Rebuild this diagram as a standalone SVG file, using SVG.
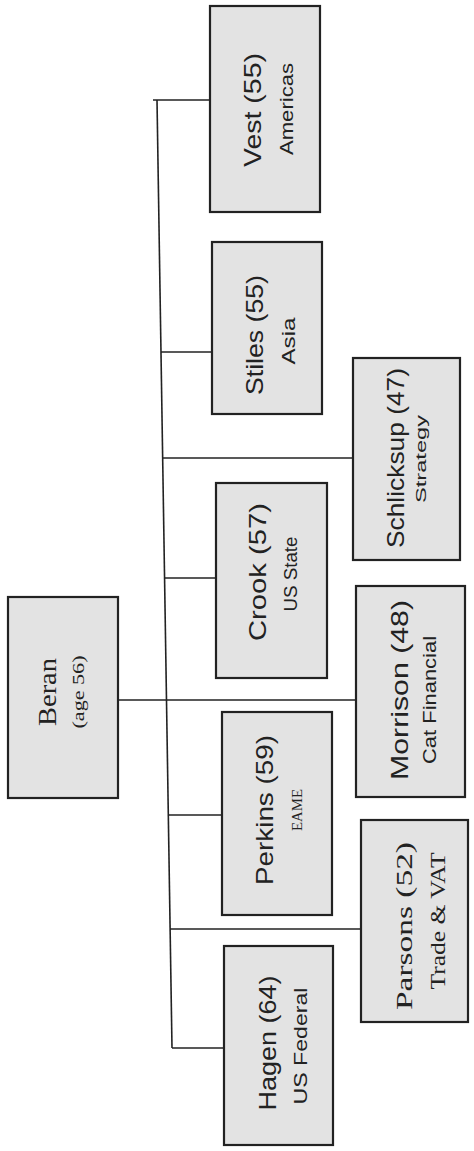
<svg xmlns="http://www.w3.org/2000/svg" width="474" height="1151" viewBox="0 0 474 1151">
<style>
.box{fill:#e3e3e3;stroke:#222;stroke-width:2.2}
.ln{stroke:#222;stroke-width:1.6;fill:none}
.s1{font-family:"Liberation Sans","DejaVu Sans",sans-serif;font-size:24px;fill:#222;text-anchor:middle}
.s2{font-family:"Liberation Sans","DejaVu Sans",sans-serif;font-size:18px;fill:#222;text-anchor:middle}
.r1{font-family:"Liberation Serif","DejaVu Serif",serif;font-size:24px;fill:#222;text-anchor:middle}
.r2{font-family:"Liberation Serif","DejaVu Serif",serif;font-size:17px;fill:#222;text-anchor:middle}
</style>
<rect width="474" height="1151" fill="#fff"/>
<g id="connectors">
<line class="ln" x1="157" y1="100" x2="172" y2="1048"/>
<line class="ln" x1="153" y1="100" x2="210" y2="100"/>
<line class="ln" x1="161" y1="352" x2="212" y2="352"/>
<line class="ln" x1="162.7" y1="458" x2="353" y2="458"/>
<line class="ln" x1="164.6" y1="578" x2="216" y2="578"/>
<line class="ln" x1="118" y1="700" x2="356" y2="700"/>
<line class="ln" x1="168.3" y1="815" x2="222" y2="815"/>
<line class="ln" x1="170" y1="929" x2="361" y2="929"/>
<line class="ln" x1="172" y1="1048" x2="224" y2="1048"/>
</g>
<g id="beran">
<rect class="box" x="8" y="597" width="110" height="201"/>
<text class="r1" transform="translate(56,692) rotate(-90)" textLength="68" lengthAdjust="spacingAndGlyphs" style="font-size:25px">Beran</text>
<text class="r2" transform="translate(84,692) rotate(-90)" textLength="73" lengthAdjust="spacingAndGlyphs">(age 56)</text>
</g>
<g id="vest">
<rect class="box" x="210" y="6" width="110" height="206"/>
<text class="s1" transform="translate(261,110) rotate(-90)" textLength="114" lengthAdjust="spacingAndGlyphs">Vest (55)</text>
<text class="s2" transform="translate(293,109) rotate(-90)" textLength="92" lengthAdjust="spacingAndGlyphs">Americas</text>
</g>
<g id="stiles">
<rect class="box" x="212" y="242" width="110" height="172"/>
<text class="s1" transform="translate(263,335) rotate(-90)" textLength="120" lengthAdjust="spacingAndGlyphs">Stiles (55)</text>
<text class="s2" transform="translate(295,341) rotate(-90)" textLength="47" lengthAdjust="spacingAndGlyphs">Asia</text>
</g>
<g id="crook">
<rect class="box" x="216" y="483" width="111" height="195"/>
<text class="s1" transform="translate(266,572) rotate(-90)" textLength="138" lengthAdjust="spacingAndGlyphs">Crook (57)</text>
<text class="s2" transform="translate(297,574) rotate(-90)" textLength="75" lengthAdjust="spacingAndGlyphs">US State</text>
</g>
<g id="perkins">
<rect class="box" x="222" y="712" width="110" height="203"/>
<text class="s1" transform="translate(273,810) rotate(-90)" textLength="150" lengthAdjust="spacingAndGlyphs">Perkins (59)</text>
<text class="r2" transform="translate(302,810) rotate(-90)" textLength="42" lengthAdjust="spacingAndGlyphs" style="font-size:14px">EAME</text>
</g>
<g id="hagen">
<rect class="box" x="224" y="946" width="109" height="199"/>
<text class="s1" transform="translate(276,1043) rotate(-90)" textLength="135" lengthAdjust="spacingAndGlyphs">Hagen (64)</text>
<text class="s2" transform="translate(307,1046) rotate(-90)" textLength="117" lengthAdjust="spacingAndGlyphs">US Federal</text>
</g>
<g id="schlicksup">
<rect class="box" x="353" y="358" width="107" height="202"/>
<text class="s1" transform="translate(404,458) rotate(-90)" textLength="180" lengthAdjust="spacingAndGlyphs">Schlicksup (47)</text>
<text class="s2" transform="translate(426,459) rotate(-90)" textLength="88" lengthAdjust="spacingAndGlyphs" style="font-size:15px">Strategy</text>
</g>
<g id="morrison">
<rect class="box" x="356" y="586" width="109" height="211"/>
<text class="s1" transform="translate(408,690) rotate(-90)" textLength="180" lengthAdjust="spacingAndGlyphs">Morrison (48)</text>
<text class="s2" transform="translate(436,700) rotate(-90)" textLength="128" lengthAdjust="spacingAndGlyphs">Cat Financial</text>
</g>
<g id="parsons">
<rect class="box" x="361" y="820" width="107" height="202"/>
<text class="r1" transform="translate(412,926) rotate(-90)" textLength="168" lengthAdjust="spacingAndGlyphs">Parsons (52)</text>
<text class="r2" transform="translate(445,921) rotate(-90)" textLength="137" lengthAdjust="spacingAndGlyphs" style="font-size:20px">Trade &amp; VAT</text>
</g>
</svg>
